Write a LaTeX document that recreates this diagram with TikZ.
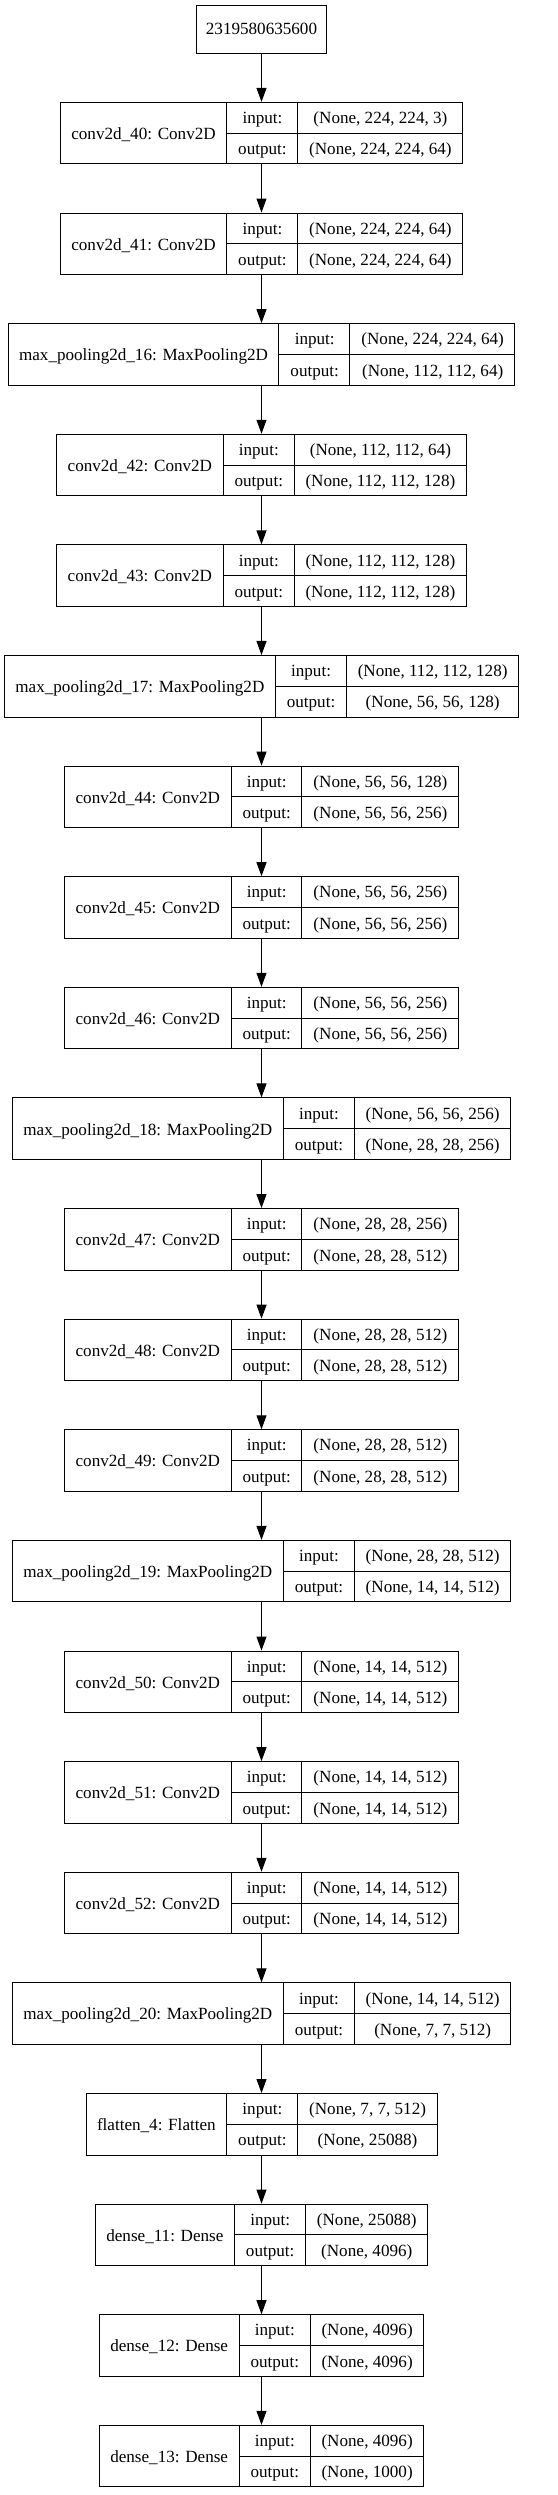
\documentclass[tikz,border=0pt]{standalone}
\usepackage{fontspec}
\setmainfont{Liberation Serif}
\usetikzlibrary{arrows.meta,positioning}

\setlength{\tabcolsep}{11pt}
\setlength{\arrayrulewidth}{1pt}
\renewcommand{\arraystretch}{1.476}
% one record: name | input:/output: | shapes
\newcommand{\layer}[3]{%
	\begin{tabular}{c|@{}c@{}|@{}c@{}}
		\raisebox{-2pt}{#1} &
		\begin{tabular}{c}input:\\ \hline output:\end{tabular} &
		\begin{tabular}{c}#2\\ \hline #3\end{tabular}
	\end{tabular}}

\begin{document}
\begin{tikzpicture}[
		x=1pt, y=1pt,
		node distance=48.1pt,
		arrow/.style={-{Triangle[width=10pt,length=14pt]}, line width=1pt},
		block/.style={draw, line width=1pt, inner sep=0pt, align=center,
			font=\fontsize{17.1pt}{20.5pt}\selectfont},
	]
		\useasboundingbox (0,0) rectangle (557,-2495);
		\node (in) [block, minimum width=130pt, minimum height=48pt] at (261.5,-29.3) {2319580635600};
		\node (c40) [block, below=of in] {\layer{conv2d\_40: Conv2D}{(None, 224, 224, 3)}{(None, 224, 224, 64)}};
		\node (c41) [block, below=of c40] {\layer{conv2d\_41: Conv2D}{(None, 224, 224, 64)}{(None, 224, 224, 64)}};
		\node (p16) [block, below=of c41] {\layer{max\_pooling2d\_16: MaxPooling2D}{(None, 224, 224, 64)}{(None, 112, 112, 64)}};
		\node (c42) [block, below=of p16] {\layer{conv2d\_42: Conv2D}{(None, 112, 112, 64)}{(None, 112, 112, 128)}};
		\node (c43) [block, below=of c42] {\layer{conv2d\_43: Conv2D}{(None, 112, 112, 128)}{(None, 112, 112, 128)}};
		\node (p17) [block, below=of c43] {\layer{max\_pooling2d\_17: MaxPooling2D}{(None, 112, 112, 128)}{(None, 56, 56, 128)}};
		\node (c44) [block, below=of p17] {\layer{conv2d\_44: Conv2D}{(None, 56, 56, 128)}{(None, 56, 56, 256)}};
		\node (c45) [block, below=of c44] {\layer{conv2d\_45: Conv2D}{(None, 56, 56, 256)}{(None, 56, 56, 256)}};
		\node (c46) [block, below=of c45] {\layer{conv2d\_46: Conv2D}{(None, 56, 56, 256)}{(None, 56, 56, 256)}};
		\node (p18) [block, below=of c46] {\layer{max\_pooling2d\_18: MaxPooling2D}{(None, 56, 56, 256)}{(None, 28, 28, 256)}};
		\node (c47) [block, below=of p18] {\layer{conv2d\_47: Conv2D}{(None, 28, 28, 256)}{(None, 28, 28, 512)}};
		\node (c48) [block, below=of c47] {\layer{conv2d\_48: Conv2D}{(None, 28, 28, 512)}{(None, 28, 28, 512)}};
		\node (c49) [block, below=of c48] {\layer{conv2d\_49: Conv2D}{(None, 28, 28, 512)}{(None, 28, 28, 512)}};
		\node (p19) [block, below=of c49] {\layer{max\_pooling2d\_19: MaxPooling2D}{(None, 28, 28, 512)}{(None, 14, 14, 512)}};
		\node (c50) [block, below=of p19] {\layer{conv2d\_50: Conv2D}{(None, 14, 14, 512)}{(None, 14, 14, 512)}};
		\node (c51) [block, below=of c50] {\layer{conv2d\_51: Conv2D}{(None, 14, 14, 512)}{(None, 14, 14, 512)}};
		\node (c52) [block, below=of c51] {\layer{conv2d\_52: Conv2D}{(None, 14, 14, 512)}{(None, 14, 14, 512)}};
		\node (p20) [block, below=of c52] {\layer{max\_pooling2d\_20: MaxPooling2D}{(None, 14, 14, 512)}{(None, 7, 7, 512)}};
		\node (fl4) [block, below=of p20] {\layer{flatten\_4: Flatten}{(None, 7, 7, 512)}{(None, 25088)}};
		\node (d11) [block, below=of fl4] {\layer{dense\_11: Dense}{(None, 25088)}{(None, 4096)}};
		\node (d12) [block, below=of d11] {\layer{dense\_12: Dense}{(None, 4096)}{(None, 4096)}};
		\node (d13) [block, below=of d12] {\layer{dense\_13: Dense}{(None, 4096)}{(None, 1000)}};
		
		\draw[arrow] (in) -- (c40);
		\draw[arrow] (c40) -- (c41);
		\draw[arrow] (c41) -- (p16);
		\draw[arrow] (p16) -- (c42);
		\draw[arrow] (c42) -- (c43);
		\draw[arrow] (c43) -- (p17);
		\draw[arrow] (p17) -- (c44);
		\draw[arrow] (c44) -- (c45);
		\draw[arrow] (c45) -- (c46);
		\draw[arrow] (c46) -- (p18);
		\draw[arrow] (p18) -- (c47);
		\draw[arrow] (c47) -- (c48);
		\draw[arrow] (c48) -- (c49);
		\draw[arrow] (c49) -- (p19);
		\draw[arrow] (p19) -- (c50);
		\draw[arrow] (c50) -- (c51);
		\draw[arrow] (c51) -- (c52);
		\draw[arrow] (c52) -- (p20);
		\draw[arrow] (p20) -- (fl4);
		\draw[arrow] (fl4) -- (d11);
		\draw[arrow] (d11) -- (d12);
		\draw[arrow] (d12) -- (d13);
	\end{tikzpicture}
\end{document}
